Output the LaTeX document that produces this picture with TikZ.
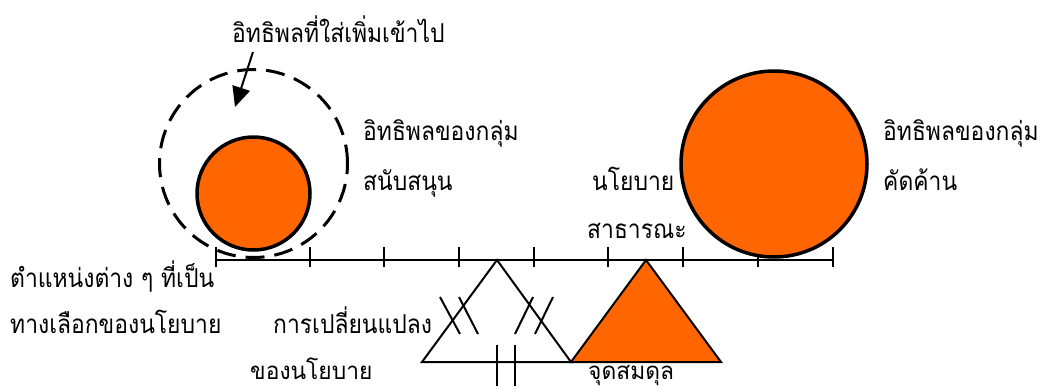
\documentclass[tikz,border=0pt]{standalone}
\usepackage{fontspec}
\newfontfamily\thaifont[Script=Thai,FakeStretch=0.88]{Loma}
\newfontfamily\thailow[Script=Thai,FakeStretch=0.95]{Loma}
\usetikzlibrary{arrows.meta}
\definecolor{orng}{HTML}{FF6600}
\tikzset{
  lbl/.style={anchor=base west, inner sep=0pt, font=\thaifont\fontsize{26}{30}\selectfont},
  low/.style={font=\thailow\fontsize{24}{28}\selectfont},
  thin/.style={line width=2pt, line join=miter},
  ticky/.style={line width=1.6pt},
  ball/.style={draw=black, line width=3.5pt, fill=orng, circle},
}
\begin{document}
\begin{tikzpicture}[x=1pt,y=-1pt]
\useasboundingbox (0,0) rectangle (1047,389);
% axis
\coordinate (aL) at (216,260);
\coordinate (aR) at (833,260);
\draw[thin] (aL) -- (aR);
\foreach \x in {216,310,384,459,534,608,683,758,833}
  \draw[ticky] (\x,247) -- (\x,267);
% circles
\node[ball, minimum size=113pt, inner sep=0pt] (small) at (253.5,193.5) {};
\node[draw=black, line width=3pt, dash pattern=on 19pt off 10pt, circle, minimum size=188pt, inner sep=0pt] (ring) at (253.5,163.5) {};
\node[ball, minimum size=186pt, inner sep=0pt] (big) at (774,164) {};
% arrow
\coordinate (arS) at (253,52);
\coordinate (arE) at (235,107);
\draw[line width=2pt, -{Triangle[length=20pt,width=18pt]}] (arS) -- (arE);
% triangles
\coordinate (wA) at (497,260);
\coordinate (wL) at (422,362);
\coordinate (wR) at (571,362);
\coordinate (oA) at (646,260);
\coordinate (oR) at (721,362);
\draw[thin] (wL) -- (wA) -- (wR) -- cycle;
\draw[thin, fill=orng] (wR) -- (oA) -- (oR) -- cycle;
% change marks
\draw[thin] (440,297) -- (460,334);
\draw[thin] (459,297) -- (478,334);
\draw[thin] (533,297) -- (515,334);
\draw[thin] (553,297) -- (535,334);
\draw[thin] (497,345) -- (497,386);
\draw[thin] (515,345) -- (515,386);
% labels
\node[lbl] (t0) at (232,42) {อิทธิพลที่ใส่เพิ่มเข้าไป};
\node[lbl] (t1) at (363,140) {อิทธิพลของกลุ่ม};
\node[lbl] (t2) at (363,190) {สนับสนุน};
\node[lbl] (t3) at (883,140) {อิทธิพลของกลุ่ม};
\node[lbl] (t4) at (883,190) {คัดค้าน};
\node[lbl] (t5) at (592,190) {นโยบาย};
\node[lbl] (t6) at (587,238) {สาธารณะ};
\node[lbl] (t7) at (10,287) {ตำแหน่งต่าง ๆ ที่เป็น};
\node[lbl] (t8) at (10,333) {ทางเลือกของนโยบาย};
\node[lbl] (t9) at (273,333) {การเปลี่ยนแปลง};
\node[lbl, low] (t10) at (250,379) {ของนโยบาย};
\node[lbl, low] (t11) at (588,379) {จุดสมดุล};
\end{tikzpicture}
\end{document}
